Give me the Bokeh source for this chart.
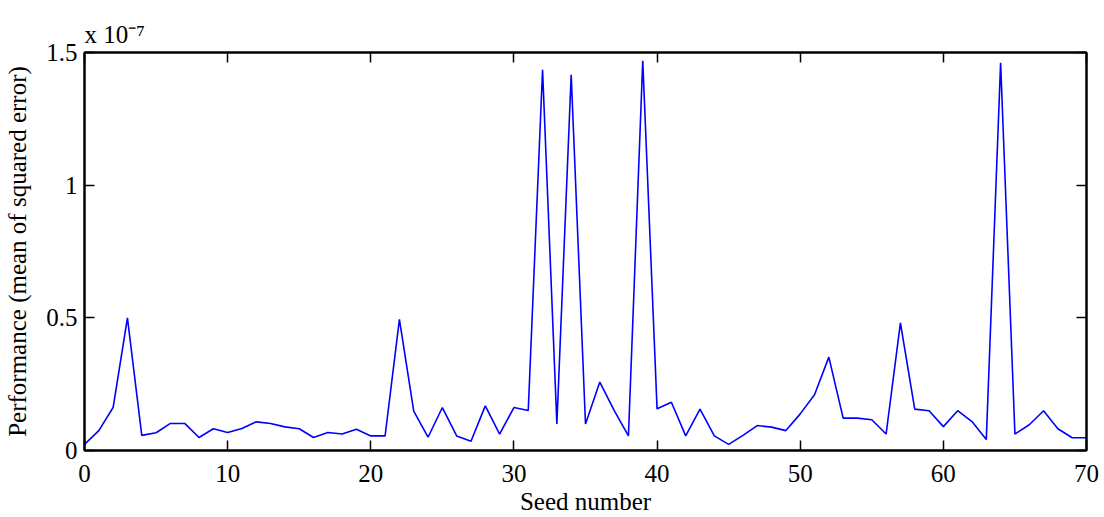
from bokeh.plotting import figure
from bokeh.models import LinearAxis, FixedTicker, Range1d
from bokeh.embed import file_html
from bokeh.resources import INLINE

# Seed numbers and performance (mean of squared error), in units of 1e-7
seed = list(range(0, 71))
mse_e7 = [0.023, 0.075, 0.162, 0.500, 0.057, 0.067, 0.102, 0.102, 0.049, 0.082,
          0.068, 0.083, 0.108, 0.102, 0.089, 0.082, 0.049, 0.068, 0.062, 0.080,
          0.055, 0.055, 0.494, 0.148, 0.050, 0.162, 0.055, 0.035, 0.168, 0.062,
          0.162, 0.151, 1.435, 0.100, 1.416, 0.100, 0.258, 0.151, 0.055, 1.469,
          0.157, 0.182, 0.055, 0.156, 0.055, 0.023, 0.057, 0.094, 0.088, 0.075,
          0.138, 0.210, 0.352, 0.122, 0.122, 0.116, 0.062, 0.481, 0.156, 0.150,
          0.090, 0.150, 0.109, 0.041, 1.461, 0.062, 0.097, 0.150, 0.082, 0.048,
          0.048]
x_ticks = [0, 10, 20, 30, 40, 50, 60, 70]
y_ticks = [0, 0.5, 1, 1.5]
y_tick_labels = {0: "0", 0.5: "0.5", 1: "1", 1.5: "1.5"}
multiplier = "x 10\u207b\u2077"

FONT = "Liberation Serif"
FS = "25px"

p = figure(width=1100, height=517, output_backend="svg", toolbar_location=None,
           x_range=Range1d(0, 70), y_range=Range1d(0, 1.5),
           min_border_left=84, min_border_right=14, min_border_top=52, min_border_bottom=67)
p.background_fill_color = "white"
p.border_fill_color = "white"
p.grid.visible = False
p.outline_line_color = "black"
p.outline_line_width = 2

p.line(seed, mse_e7, line_color="#0000ff", line_width=1.6)

def style(ax, labels=True):
    ax.axis_line_color = "black"
    ax.axis_line_width = 2
    ax.major_tick_in = 10
    ax.major_tick_out = 0
    ax.major_tick_line_width = 1.5
    ax.minor_tick_line_color = None
    ax.major_label_text_font = FONT
    ax.major_label_text_font_size = FS
    ax.major_label_text_color = "black"
    ax.axis_label_text_font = FONT
    ax.axis_label_text_font_size = FS
    ax.axis_label_text_font_style = "normal"
    ax.axis_label_text_color = "black"
    if not labels:
        ax.major_label_text_alpha = 0
        ax.major_label_text_font_size = "0px"
        ax.major_label_standoff = 0

xa = p.xaxis[0]
xa.ticker = FixedTicker(ticks=x_ticks)
xa.axis_label = "Seed number"
style(xa)
xa.major_label_standoff = 14
xa.axis_label_standoff = 3

ya = p.yaxis[0]
ya.ticker = FixedTicker(ticks=y_ticks)
ya.major_label_overrides = y_tick_labels
ya.axis_label = "Performance (mean of squared error)"
style(ya)
ya.major_label_standoff = 7
ya.axis_label_standoff = 12

top = LinearAxis(ticker=FixedTicker(ticks=x_ticks))
style(top, labels=False)
p.add_layout(top, "above")
right = LinearAxis(ticker=FixedTicker(ticks=y_ticks))
style(right, labels=False)
p.add_layout(right, "right")

# multiplier text above the top-left corner
p.title.text = multiplier
p.title.align = "left"
p.title.offset = 0
p.title.standoff = 9
p.title.text_font = FONT
p.title.text_font_size = FS
p.title.text_font_style = "normal"
p.title.text_color = "black"

open("out.html", "w").write(file_html(p, INLINE))
